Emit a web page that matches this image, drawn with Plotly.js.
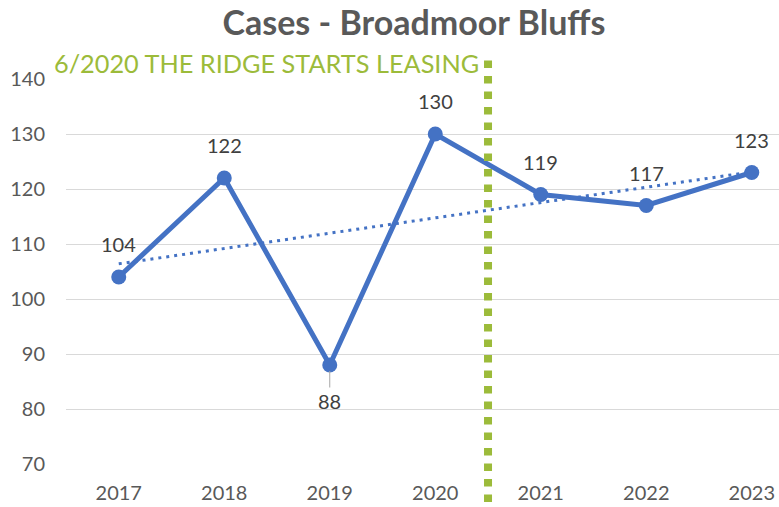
<!DOCTYPE html>
<html>
<head>
<meta charset="utf-8">
<script src="https://cdn.plot.ly/plotly-3.0.1.min.js"></script>
<style>html,body{margin:0;padding:0;background:#fff;}#chart{width:779px;height:507px;}</style>
</head>
<body>
<div id="chart"></div>
<script>
const years = ['2017', '2018', '2019', '2020', '2021', '2022', '2023'];
const cases = [104, 122, 88, 130, 119, 117, 123];
const trendYears = ['2017', '2023'];
const trendValues = [106.4, 123.1];
const yTicks = [70, 80, 90, 100, 110, 120, 130, 140];
const eventLabel = '6/2020 THE RIDGE STARTS LEASING';
const chartTitle = 'Cases - Broadmoor Bluffs';

const FONT = 'Lato, "Open Sans", sans-serif';
const BLUE = '#4472C4';
const GREEN = '#9CBB3A';

const traces = [
  {
    x: years, y: cases, type: 'scatter', mode: 'lines+markers',
    line: {color: BLUE, width: 5},
    marker: {color: BLUE, size: 15},
    showlegend: false
  },
  {
    x: trendYears, y: trendValues, type: 'scatter', mode: 'lines',
    line: {color: BLUE, width: 3, dash: '3px,5px'},
    hoverinfo: 'skip', showlegend: false
  }
];

const minVal = Math.min(...cases);
const annotations = cases.map((v, i) => {
  if (v === minVal) {
    return {
      x: i, y: v, xref: 'x', yref: 'y', text: String(v),
      showarrow: true, ax: 0, ay: 36, arrowhead: 0, arrowwidth: 1,
      arrowcolor: '#A6A6A6', standoff: 6,
      font: {family: FONT, size: 20, color: '#404040'}
    };
  }
  return {
    x: i, y: v, xref: 'x', yref: 'y', text: String(v),
    showarrow: false, yshift: 33,
    font: {family: FONT, size: 20, color: '#404040'}
  };
});
annotations.push({
  x: 3.5, y: 1.042, xref: 'x', yref: 'paper', text: eventLabel,
  showarrow: false, xanchor: 'right', yanchor: 'middle', xshift: -7,
  font: {family: FONT, size: 25.3, color: GREEN}
});

const layout = {
  width: 779, height: 507,
  margin: {l: 66, r: 0, t: 79, b: 43},
  paper_bgcolor: '#ffffff', plot_bgcolor: '#ffffff',
  title: {
    text: '<b>' + chartTitle + '</b>',
    x: 414 / 779, xanchor: 'center', xref: 'container',
    y: 1 - 23 / 507, yanchor: 'middle', yref: 'container',
    font: {family: FONT, size: 34, color: '#595959'}
  },
  xaxis: {
    type: 'category', categoryorder: 'array', categoryarray: years,
    range: [-0.5, 6.258],
    showgrid: false, zeroline: false, showline: false,
    ticks: '', ticklabelstandoff: 15,
    tickfont: {family: FONT, size: 20, color: '#595959'},
    fixedrange: true
  },
  yaxis: {
    range: [70, 140], tickvals: yTicks,
    showgrid: true, gridcolor: '#D9D9D9', gridwidth: 1,
    zeroline: false, showline: false, ticks: '',
    ticklabelstandoff: 20,
    tickfont: {family: FONT, size: 20, color: '#595959'},
    fixedrange: true
  },
  shapes: [{
    type: 'line', xref: 'x', yref: 'paper',
    x0: 3.5, x1: 3.5, y0: -0.099, y1: 1.05,
    line: {color: GREEN, width: 8, dash: '7.5px,8px'}
  }],
  annotations: annotations,
  showlegend: false
};

Plotly.newPlot('chart', traces, layout, {displayModeBar: false, staticPlot: true});
</script>
</body>
</html>
